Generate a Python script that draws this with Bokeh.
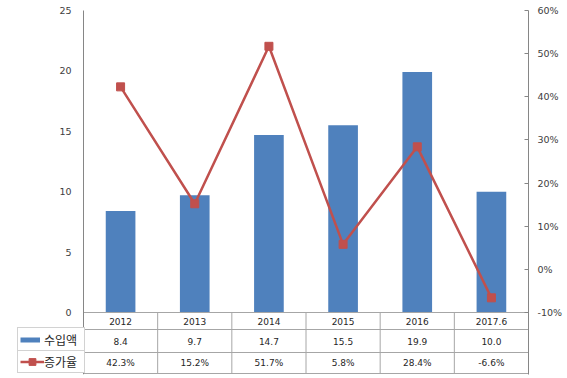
from bokeh.plotting import figure
from bokeh.models import (Range1d, LinearAxis, FixedTicker, PrintfTickFormatter,
                          Legend, LegendItem)
from bokeh.core.properties import value
from bokeh.embed import file_html
from bokeh.resources import INLINE

# ---- data ----
categories = ["2012", "2013", "2014", "2015", "2016", "2017.6"]
import_values = [8.4, 9.7, 14.7, 15.5, 19.9, 10.0]
growth_rates = [42.3, 15.2, 51.7, 5.8, 28.4, -6.6]
left_ticks = [0, 5, 10, 15, 20, 25]
right_ticks = [-10, 0, 10, 20, 30, 40, 50, 60]
series_names = ["수입액", "증가율"]

# ---- layout constants ----
W, H = 567, 378
B_LEFT, B_RIGHT, B_TOP, B_BOTTOM = 17, 39, 0, 4
TOP_PAD = 10                         # px above the top tick inside the frame
LEGEND_COL = 66                      # width of the table's name column (px)
frame_w = W - B_LEFT - B_RIGHT
frame_h = H - B_TOP - B_BOTTOM
n = len(categories)
col_w = (frame_w - LEGEND_COL) / n
x_start = -0.5 - LEGEND_COL / col_w
row_h = [17, 23, 21]           # category row, 수입액 row, 증가율 row (top to bottom)
table_px = sum(row_h) + 1
plot_px = frame_h - table_px - TOP_PAD
L_MAX, P_MIN, P_MAX = 25, -10, 60
left_start = -table_px * L_MAX / plot_px
left_end = L_MAX + TOP_PAD * L_MAX / plot_px
pct_scale = (P_MAX - P_MIN) / plot_px
pct_start = P_MIN - table_px * pct_scale
pct_end = P_MAX + TOP_PAD * pct_scale

BLUE = "#4F81BD"
RED = "#C0504D"
GRID = "#A6A6A6"
AXIS = "#868686"
TXT = "#262626"
NUM_FONT = "DejaVu Sans"
KR_FONT = "Noto Sans CJK KR"

xs = list(range(n))

p = figure(width=W, height=H, x_range=Range1d(x_start, n - 0.5),
           y_range=Range1d(left_start, left_end), output_backend="svg",
           toolbar_location=None, x_axis_location=None,
           min_border_left=B_LEFT, min_border_right=B_RIGHT,
           min_border_top=B_TOP, min_border_bottom=B_BOTTOM)
p.outline_line_color = None
for g in p.grid:
    g.visible = False
p.background_fill_color = "white"

p.extra_y_ranges = {"pct": Range1d(pct_start, pct_end),
                    "tbl": Range1d(-1, frame_h - 1)}

# left axis, placed at the left edge of the chart area
ya = p.yaxis[0]
ya.fixed_location = -0.5
ya.ticker = FixedTicker(ticks=left_ticks)
ya.bounds = (left_start, L_MAX)
ya.major_tick_in = 0
ya.major_tick_out = 0
ya.minor_tick_in = 0
ya.minor_tick_out = 0
ya.axis_line_color = AXIS
ya.major_label_standoff = 12
ya.major_label_text_font = NUM_FONT
ya.major_label_text_font_size = "9.5px"
ya.major_label_text_color = "#404040"

# right axis
ra = LinearAxis(y_range_name="pct", ticker=FixedTicker(ticks=right_ticks),
                formatter=PrintfTickFormatter(format="%d%%"),
                bounds=(pct_start, P_MAX))
ra.major_tick_in = 4
ra.major_tick_out = 0
ra.minor_tick_in = 0
ra.minor_tick_out = 0
ra.major_tick_line_color = AXIS
ra.axis_line_color = AXIS
ra.major_label_standoff = 9
ra.major_label_text_font = NUM_FONT
ra.major_label_text_font_size = "9.5px"
ra.major_label_text_color = "#404040"
p.add_layout(ra, "right")

# bars
p.vbar(x=xs, top=import_values, bottom=0, width=0.4, fill_color=BLUE, line_color=None)

# growth line
r_line = p.line(x=xs, y=growth_rates, y_range_name="pct", line_color=RED, line_width=2.5)
r_pts = p.scatter(x=xs, y=growth_rates, y_range_name="pct", marker="square", size=8,
                  fill_color=RED, line_color=RED)

# table grid
edges = [0]
for h in reversed(row_h):
    edges.append(edges[-1] + h)       # bottom-up: 0, 21, 44, 61
p.segment(x0=[-0.5] * len(edges), x1=[n - 0.5] * len(edges),
          y0=edges, y1=edges, y_range_name="tbl", line_color=GRID, line_width=1)
inner = [i + 0.5 for i in range(n - 1)]
p.segment(x0=inner, x1=inner, y0=[0] * len(inner), y1=[edges[-1]] * len(inner),
          y_range_name="tbl", line_color=GRID, line_width=1)

centers = [(edges[i] + edges[i + 1]) / 2 for i in range(len(edges) - 1)]  # 증가율, 수입액, category
row_texts = [
    (centers[2], categories),
    (centers[1], [f"{v:.1f}" for v in import_values]),
    (centers[0], [f"{v:.1f}%" for v in growth_rates]),
]
for yc, texts in row_texts:
    p.text(x=xs, y=[yc] * len(xs), text=texts, y_range_name="tbl",
           text_align="center", text_baseline="middle",
           text_font=value(NUM_FONT), text_font_size="9px", text_color=TXT)

# legend proxy for the bar series (a thick line swatch; it draws nothing in the plot)
nan = float("nan")
r_proxy = p.line(x=[0, 1], y=[nan, nan], line_color=BLUE, line_width=5)

common = dict(border_line_color=GRID, border_line_width=1, background_fill_color="white",
              background_fill_alpha=1.0, margin=0, padding=2, spacing=0,
              label_text_font=KR_FONT, label_text_font_size="12px",
              label_text_color=TXT, orientation="vertical")

leg1 = Legend(items=[LegendItem(label=series_names[0], renderers=[r_proxy])],
              location=(0, 1 + row_h[2]),
              glyph_width=20, glyph_height=row_h[1] - 4, label_height=row_h[1] - 4,
              label_standoff=4, label_width=38, **common)
leg2 = Legend(items=[LegendItem(label=series_names[1], renderers=[r_line, r_pts])],
              location=(0, 1),
              glyph_width=24, glyph_height=row_h[2] - 4, label_height=row_h[2] - 4,
              label_standoff=0, label_width=38, **common)
p.add_layout(leg1)
p.add_layout(leg2)

open("out.html", "w").write(file_html(p, INLINE))
